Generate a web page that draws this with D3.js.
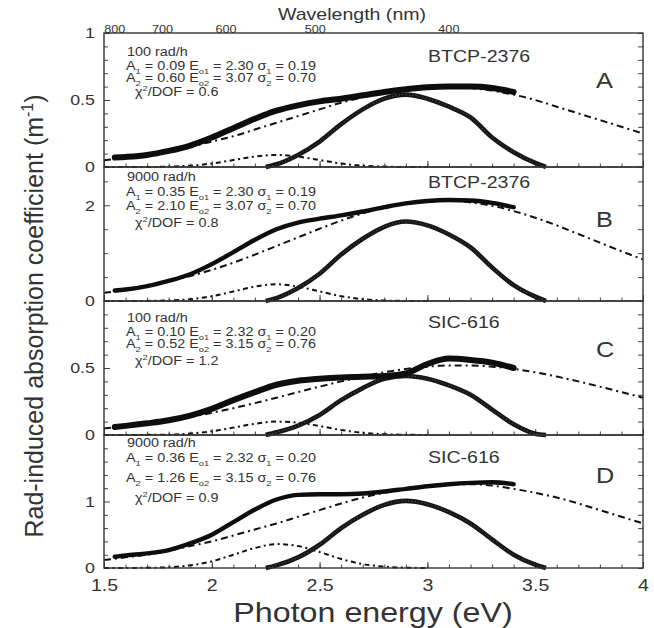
<!DOCTYPE html>
<html>
<head>
<meta charset="utf-8">
<script src="https://cdn.jsdelivr.net/npm/d3@7"></script>
<style>
  body { margin: 0; background: #fff; }
  svg { display: block; font-family: "Liberation Sans", Arial, sans-serif; }
</style>
</head>
<body>
<svg id="chart" width="654" height="628"></svg>
<script>
// ---- values ----
const panelIds = ["A", "B", "C", "D"];
const sampleNames = ["BTCP-2376", "BTCP-2376", "SIC-616", "SIC-616"];
const doseRates = ["100 rad/h", "9000 rad/h", "100 rad/h", "9000 rad/h"];
const fitA1 = ["0.09", "0.35", "0.10", "0.36"];
const fitE1 = ["2.30", "2.30", "2.32", "2.32"];
const fitS1 = ["0.19", "0.19", "0.20", "0.20"];
const fitA2 = ["0.60", "2.10", "0.52", "1.26"];
const fitE2 = ["3.07", "3.07", "3.15", "3.15"];
const fitS2 = ["0.70", "0.70", "0.76", "0.76"];
const chi2 = ["0.6", "0.8", "1.2", "0.9"];

const yMax = [1, 2.8, 1, 2];
const yLabelTicks = [[0, 0.5, 1], [0, 2], [0, 0.5], [0, 1]];
const yMinorTicks = [
  [0.1, 0.2, 0.3, 0.4, 0.6, 0.7, 0.8, 0.9],
  [0.5, 1, 1.5, 2.5],
  [0.1, 0.2, 0.3, 0.4, 0.6, 0.7, 0.8, 0.9],
  [0.2, 0.4, 0.6, 0.8, 1.2, 1.4, 1.6, 1.8]
];
const xLabelTicks = [1.5, 2, 2.5, 3, 3.5, 4];
const wavelengthTicks = [800, 700, 600, 500, 400];

// measured absorption
const measuredE = [1.55, 1.6, 1.7, 1.8, 1.9, 2.0, 2.1, 2.2, 2.3, 2.4, 2.5, 2.6, 2.7, 2.8, 2.9, 3.0, 3.1, 3.2, 3.3, 3.4];
const measuredA = [0.07, 0.075, 0.09, 0.12, 0.16, 0.22, 0.29, 0.36, 0.42, 0.46, 0.49, 0.51, 0.535, 0.56, 0.58, 0.595, 0.60, 0.60, 0.59, 0.56];
const measuredB = [0.22, 0.24, 0.31, 0.42, 0.56, 0.77, 1.02, 1.28, 1.50, 1.64, 1.72, 1.79, 1.87, 1.96, 2.04, 2.09, 2.11, 2.10, 2.05, 1.96];
const measuredC = [0.06, 0.068, 0.087, 0.11, 0.145, 0.195, 0.26, 0.32, 0.375, 0.405, 0.42, 0.43, 0.435, 0.44, 0.46, 0.53, 0.57, 0.56, 0.54, 0.50];
const measuredD = [0.17, 0.19, 0.22, 0.27, 0.37, 0.50, 0.69, 0.88, 1.03, 1.10, 1.11, 1.11, 1.12, 1.15, 1.19, 1.23, 1.26, 1.28, 1.29, 1.26];

// first (narrow) fit component
const comp1E = [1.5, 1.6, 1.7, 1.8, 1.9, 2.0, 2.1, 2.2, 2.3, 2.4, 2.5, 2.6, 2.7, 2.8, 2.9, 3.0];
const comp1A = [0, 0, 0, 0.003, 0.01, 0.026, 0.052, 0.078, 0.09, 0.078, 0.052, 0.026, 0.01, 0.003, 0, 0];
const comp1B = [0, 0, 0.002, 0.011, 0.038, 0.10, 0.20, 0.30, 0.35, 0.30, 0.20, 0.10, 0.038, 0.011, 0.002, 0];
const comp1C = [0, 0, 0.001, 0.003, 0.011, 0.028, 0.055, 0.084, 0.10, 0.092, 0.067, 0.038, 0.016, 0.006, 0.002, 0];
const comp1D = [0, 0.001, 0.003, 0.012, 0.04, 0.10, 0.20, 0.30, 0.36, 0.33, 0.24, 0.135, 0.059, 0.02, 0.005, 0];

// second (broad) fit component
const comp2E = [1.5, 1.6, 1.7, 1.8, 1.9, 2.0, 2.1, 2.2, 2.3, 2.4, 2.5, 2.6, 2.7, 2.8, 2.9, 3.0, 3.1, 3.2, 3.3, 3.4, 3.5, 3.6, 3.7, 3.8, 3.9, 4.0];
const comp2A = [0.05, 0.07, 0.09, 0.12, 0.15, 0.19, 0.23, 0.28, 0.33, 0.38, 0.43, 0.48, 0.52, 0.56, 0.58, 0.60, 0.60, 0.59, 0.57, 0.54, 0.50, 0.45, 0.40, 0.35, 0.30, 0.25];
const comp2B = [0.17, 0.23, 0.31, 0.41, 0.52, 0.65, 0.80, 0.97, 1.15, 1.33, 1.51, 1.68, 1.83, 1.95, 2.04, 2.09, 2.10, 2.06, 1.99, 1.88, 1.74, 1.58, 1.40, 1.22, 1.04, 0.87];
const comp2C = [0.05, 0.065, 0.084, 0.107, 0.134, 0.166, 0.20, 0.238, 0.278, 0.32, 0.361, 0.40, 0.436, 0.468, 0.493, 0.51, 0.519, 0.519, 0.51, 0.493, 0.468, 0.436, 0.40, 0.361, 0.32, 0.278];
const comp2D = [0.12, 0.16, 0.20, 0.26, 0.33, 0.40, 0.49, 0.58, 0.67, 0.77, 0.87, 0.97, 1.06, 1.13, 1.19, 1.24, 1.26, 1.26, 1.24, 1.19, 1.13, 1.06, 0.97, 0.87, 0.77, 0.67];

// emission spectrum (circles)
const emissionE = [2.25, 2.3, 2.4, 2.5, 2.6, 2.7, 2.8, 2.9, 3.0, 3.1, 3.2, 3.3, 3.4, 3.5, 3.55];
const emissionA = [0, 0.02, 0.09, 0.19, 0.32, 0.43, 0.51, 0.54, 0.51, 0.45, 0.37, 0.22, 0.11, 0.03, 0];
const emissionB = [0, 0.06, 0.27, 0.57, 0.97, 1.30, 1.55, 1.66, 1.58, 1.39, 1.12, 0.70, 0.33, 0.09, 0];
const emissionC = [0, 0.02, 0.07, 0.15, 0.26, 0.35, 0.42, 0.44, 0.42, 0.37, 0.30, 0.19, 0.08, 0.01, 0];
const emissionD = [0, 0.04, 0.16, 0.35, 0.60, 0.80, 0.95, 1.01, 0.96, 0.84, 0.67, 0.43, 0.20, 0.05, 0];

const measured = [measuredA, measuredB, measuredC, measuredD];
const comp1 = [comp1A, comp1B, comp1C, comp1D];
const comp2 = [comp2A, comp2B, comp2C, comp2D];
const emission = [emissionA, emissionB, emissionC, emissionD];

// ---- layout ----
const svg = d3.select("#chart");
const left = 104, right = 643;
const panelTop = [33, 167, 301, 435];
const panelH = [134, 134, 134, 133];
// text baselines, relative to the panel top: dose, A1 line, A2 line, chi2, name, letter
const textOff = [
  [23, 37, 49, 63, 29, 55],
  [14, 29, 43, 60, 21, 60],
  [21, 35, 47, 64, 27, 56],
  [12, 27, 47, 67, 28, 48]
];
const ink = "#161616";
const stretch = 1.15;

const x = d3.scaleLinear().domain([1.5, 4]).range([left, right]);

function richText(g, px, py, parts, size) {
  const t = g.append("text").attr("x", px).attr("y", py)
    .attr("font-size", size).attr("fill", "#333").attr("class", "st");
  let shift = 0;
  parts.forEach(([s, mode]) => {
    const target = mode === "sub" ? 0.28 * size : mode === "sup" ? -0.4 * size : 0;
    t.append("tspan")
      .attr("dy", target - shift)
      .attr("font-size", mode ? size * 0.65 : size)
      .text(s);
    shift = target;
  });
  return t;
}

panelIds.forEach((id, i) => {
  const top = panelTop[i], h = panelH[i];
  const y = d3.scaleLinear().domain([0, yMax[i]]).range([top + h, top]);
  const g = svg.append("g");

  // ticks
  const styleAxis = (a) => {
    a.select(".domain").remove();
    a.selectAll("line").attr("stroke", "#444").attr("stroke-width", 1);
    a.selectAll("text").attr("fill", "#333").attr("font-family", null).attr("class", "st");
  };
  g.append("g").attr("transform", `translate(${left},0)`)
    .call(d3.axisLeft(y).tickValues(yLabelTicks[i]).tickSize(-6).tickPadding(9)
      .tickFormat(d3.format("")))
    .call(styleAxis)
    .call(a => a.selectAll("text").attr("font-size", 15.5));
  g.append("g").attr("transform", `translate(${left},0)`)
    .call(d3.axisLeft(y).tickValues(yMinorTicks[i]).tickSize(-4).tickFormat(""))
    .call(styleAxis);
  g.append("g").attr("transform", `translate(${right},0)`)
    .call(d3.axisRight(y).tickValues(yLabelTicks[i].concat(yMinorTicks[i]))
      .tickSize(-5).tickFormat(""))
    .call(styleAxis);
  const xb = g.append("g").attr("transform", `translate(0,${top + h})`);
  xb.append("g").call(d3.axisBottom(x).tickValues(xLabelTicks).tickSize(-6).tickPadding(7)
      .tickFormat(i === 3 ? d3.format("") : ""))
    .call(styleAxis)
    .call(a => a.selectAll("text").attr("font-size", 17).attr("dy", "0.95em"));
  xb.append("g").call(d3.axisBottom(x).tickValues(d3.range(16, 40).map(v => v / 10))
      .tickSize(-3.5).tickFormat(""))
    .call(styleAxis);

  // curves
  const line = (xs) => d3.line()
    .x((d, k) => x(xs[k])).y(d => y(d)).curve(d3.curveMonotoneX);

  g.append("path").attr("d", line(comp1E)(comp1[i]))
    .attr("fill", "none").attr("stroke", "#111").attr("stroke-width", 2)
    .attr("stroke-dasharray", "5,3.5,2,3.5");
  g.append("path").attr("d", line(comp2E)(comp2[i]))
    .attr("fill", "none").attr("stroke", "#111").attr("stroke-width", 2)
    .attr("stroke-dasharray", "7,4,2,4");
  g.append("path").attr("d", line(emissionE)(emission[i]))
    .attr("fill", "none").attr("stroke", ink).attr("stroke-width", 4.6);
  g.append("path").attr("d", line(emissionE)(emission[i]))
    .attr("fill", "none").attr("stroke", "#fff").attr("stroke-width", 1)
    .attr("stroke-dasharray", "0.8,2.6").attr("opacity", 0.35);
  g.append("path").attr("d", line(measuredE)(measured[i]))
    .attr("fill", "none").attr("stroke", "#0d0d0d")
    .attr("stroke-width", i % 2 === 0 ? 6 : 4.4).attr("stroke-linecap", "round");

  // panel frame
  g.append("rect").attr("x", left).attr("y", top).attr("width", right - left).attr("height", h)
    .attr("fill", "none").attr("stroke", "#333").attr("stroke-width", 1.4);

  // annotations
  const off = textOff[i];
  richText(g, 127, top + off[0], [[doseRates[i]]], 12.5);
  richText(g, 126, top + off[1], [["A"], ["1", "sub"], [" = " + fitA1[i] + "  E"], ["o1", "sub"],
    [" = " + fitE1[i] + "  σ"], ["1", "sub"], [" = " + fitS1[i]]], 12.5);
  richText(g, 126, top + off[2], [["A"], ["2", "sub"], [" = " + fitA2[i] + "  E"], ["o2", "sub"],
    [" = " + fitE2[i] + "  σ"], ["2", "sub"], [" = " + fitS2[i]]], 12.5);
  richText(g, 135, top + off[3], [["χ"], ["2", "sup"], ["/DOF = " + chi2[i]]], 12.5);
  richText(g, 428, top + off[4], [[sampleNames[i]]], 17);
  richText(g, 596, top + off[5], [[id]], 22);
});

// top wavelength axis (E = hc / λ)
svg.append("g").selectAll("text").data(wavelengthTicks).join("text")
  .attr("class", "st")
  .attr("x", d => x(1239.84 / d)).attr("y", 32.5)
  .attr("text-anchor", "middle").attr("font-size", 11).attr("fill", "#333")
  .text(d => d);
svg.append("text").attr("class", "st").attr("x", 352).attr("y", 20)
  .attr("text-anchor", "middle").attr("font-size", 17).attr("fill", "#333")
  .text("Wavelength (nm)");

// axis titles
svg.append("text").attr("class", "st").attr("x", 373).attr("y", 622)
  .attr("text-anchor", "middle").attr("font-size", 28).attr("fill", "#333")
  .text("Photon energy (eV)");
const yt = svg.append("text")
  .attr("transform", "translate(43,316) rotate(-90)")
  .attr("text-anchor", "middle").attr("font-size", 25).attr("fill", "#333");
yt.append("tspan").text("Rad-induced absorption coefficient (m");
yt.append("tspan").attr("font-size", 16).attr("dy", -10).text("-1");
yt.append("tspan").attr("dy", 10).text(")");

// the source figure is stretched horizontally; stretch glyphs to match
svg.selectAll("text.st").each(function () {
  const w = this.getComputedTextLength();
  d3.select(this).attr("textLength", w * stretch).attr("lengthAdjust", "spacingAndGlyphs");
});
</script>
</body>
</html>
